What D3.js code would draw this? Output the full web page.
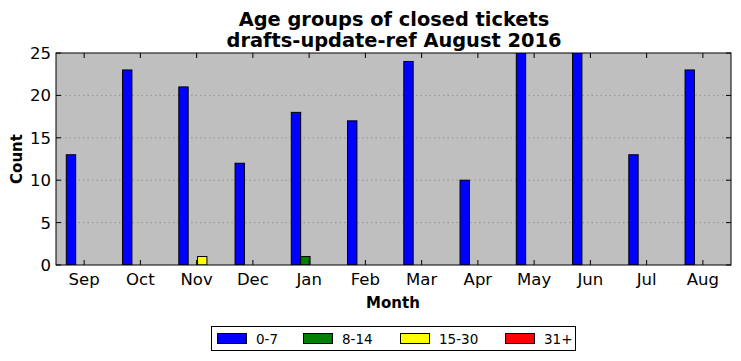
<!DOCTYPE html>
<html><head><meta charset="utf-8">
<script src="https://cdn.jsdelivr.net/npm/d3@7"></script>
<style>body{margin:0;background:#fff}svg{display:block}text{font-family:"DejaVu Sans",sans-serif}</style>
</head><body><svg id="c" width="741" height="361"></svg>
<script>
const months = ["Sep","Oct","Nov","Dec","Jan","Feb","Mar","Apr","May","Jun","Jul","Aug"];
const ageGroups = ["0-7","8-14","15-30","31+"];
const colors = ["#0000ff","#008000","#ffff00","#ff0000"];
const v0_7 = [13,23,21,12,18,17,24,10,27,26,13,23];
const v8_14 = [0,0,0,0,1,0,0,0,0,0,0,0];
const v15_30 = [0,0,1,0,0,0,0,0,0,0,0,0];
const v31 = [0,0,0,0,0,0,0,0,0,0,0,0];
const series = [v0_7, v8_14, v15_30, v31];
const yTicks = [0,5,10,15,20,25];

const svg = d3.select("#c");
const L=56, R=731, T=53, B=265;
const x = d3.scaleBand().domain(months).range([L,R]).padding(0);
const y = d3.scaleLinear().domain([0,25]).range([B,T]);
const bw = x.bandwidth();
const barW = bw/6, off0 = bw*0.183;

svg.append("defs").append("clipPath").attr("id","clip").append("rect")
  .attr("x",L).attr("y",T).attr("width",R-L).attr("height",B-T);
svg.append("rect").attr("x",L).attr("y",T).attr("width",R-L).attr("height",B-T).attr("fill","#bfbfbf");

// grid
svg.append("g").selectAll("line").data(yTicks.slice(1,-1)).join("line")
  .attr("x1",L).attr("x2",R).attr("y1",d=>y(d)).attr("y2",d=>y(d))
  .attr("stroke","#8a8a8a").attr("stroke-width",0.8).attr("stroke-dasharray","1.5,3");

const gb = svg.append("g").attr("clip-path","url(#clip)");
series.forEach((s,si)=>{
  gb.append("g").selectAll("rect").data(s).join("rect")
    .attr("x",(d,i)=>x(months[i])+off0+si*barW)
    .attr("width",barW)
    .attr("y",d=>y(d)).attr("height",d=>y(0)-y(d))
    .attr("fill",colors[si]).attr("stroke","#000").attr("stroke-width",1);
});

// ticks inside
const tk = svg.append("g").attr("stroke","#000").attr("stroke-width",1);
months.forEach(m=>{
  const cx = x(m)+bw/2;
  tk.append("line").attr("x1",cx).attr("x2",cx).attr("y1",B).attr("y2",B-5);
  tk.append("line").attr("x1",cx).attr("x2",cx).attr("y1",T).attr("y2",T+5);
});
yTicks.forEach(t=>{
  tk.append("line").attr("x1",L).attr("x2",L+5).attr("y1",y(t)).attr("y2",y(t));
  tk.append("line").attr("x1",R).attr("x2",R-5).attr("y1",y(t)).attr("y2",y(t));
});
svg.append("rect").attr("x",L).attr("y",T).attr("width",R-L).attr("height",B-T)
  .attr("fill","none").attr("stroke","#000").attr("stroke-width",1);

// tick labels
svg.append("g").selectAll("text").data(months).join("text")
  .attr("x",m=>x(m)+bw/2).attr("y",B+20).attr("text-anchor","middle")
  .attr("font-size",16.5).text(d=>d);
svg.append("g").selectAll("text").data(yTicks).join("text")
  .attr("x",L-5).attr("y",d=>y(d)+6).attr("text-anchor","end")
  .attr("font-size",16.5).text(d=>d);

// titles
svg.append("text").attr("x",394).attr("y",25.5).attr("text-anchor","middle")
  .attr("font-size",19.4).attr("font-weight","bold").text("Age groups of closed tickets");
svg.append("text").attr("x",394).attr("y",46.5).attr("text-anchor","middle")
  .attr("font-size",19.4).attr("font-weight","bold").text("drafts-update-ref August 2016");
svg.append("text").attr("x",393).attr("y",308).attr("text-anchor","middle")
  .attr("font-size",15).attr("font-weight","bold").text("Month");
svg.append("text").attr("transform","translate(21.5,159) rotate(-90)").attr("text-anchor","middle")
  .attr("font-size",15).attr("font-weight","bold").text("Count");

// legend
const lg = svg.append("g");
lg.append("rect").attr("x",211.5).attr("y",326.5).attr("width",364).attr("height",24)
  .attr("fill","#fff").attr("stroke","#000").attr("stroke-width",1);
const lx = [217,303,400,505];
ageGroups.forEach((g,i)=>{
  lg.append("rect").attr("x",lx[i]+0.5).attr("y",333.5).attr("width",29).attr("height",10)
    .attr("fill",colors[i]).attr("stroke","#000").attr("stroke-width",1);
  lg.append("text").attr("x",lx[i]+39).attr("y",343.5).attr("font-size",13.5).text(g);
});
</script></body></html>
